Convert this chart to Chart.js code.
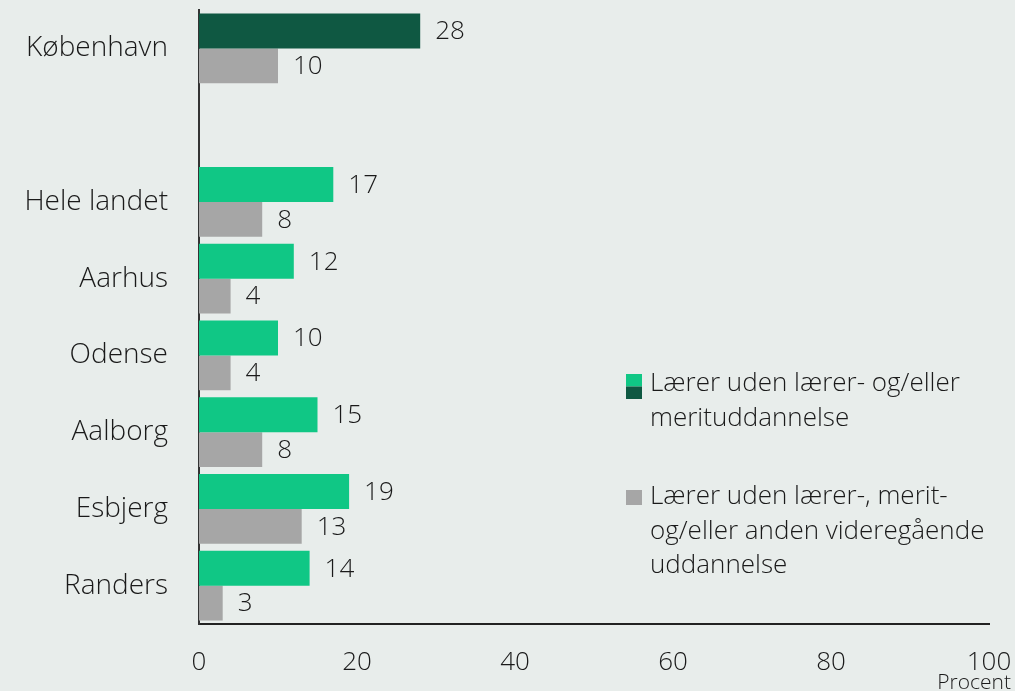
<!DOCTYPE html>
<html>
<head>
<meta charset="utf-8">
<script src="https://cdn.jsdelivr.net/npm/chart.js@4/dist/chart.umd.min.js"></script>
<style>
  html, body { margin: 0; padding: 0; background: #e8edeb; }
  #wrap { width: 1015px; height: 691px; position: relative; }
</style>
</head>
<body>
<div id="wrap"><canvas id="c" width="1015" height="691"></canvas></div>
<script>
// Byer (tom plads mellem København og resten)
const categories = ['København', '', 'Hele landet', 'Aarhus', 'Odense', 'Aalborg', 'Esbjerg', 'Randers'];
// Andel lærere uden lærer- og/eller merituddannelse (procent)
const utenLaerer = [28, null, 17, 12, 10, 15, 19, 14];
// Andel lærere uden lærer-, merit- og/eller anden videregående uddannelse (procent)
const utenVideregaaende = [10, null, 8, 4, 4, 8, 13, 3];
const xTicks = [0, 20, 40, 60, 80, 100];

const legendLabels = [
  ['Lærer uden lærer- og/eller', 'merituddannelse'],
  ['Lærer uden lærer-, merit-', 'og/eller anden videregående', 'uddannelse']
];

const GREEN = '#10c785';
const DARK_GREEN = '#0f5842';
const GREY = '#a6a6a6';
const TEXT = '#1a1a1a';
const FONT = '"Open Sans", "Noto Sans", sans-serif';

const valueLabels = {
  id: 'valueLabels',
  afterDatasetsDraw(chart) {
    const ctx = chart.ctx;
    ctx.save();
    ctx.font = '300 26px ' + FONT;
    ctx.fillStyle = TEXT;
    ctx.textAlign = 'left';
    ctx.textBaseline = 'middle';
    chart.data.datasets.forEach((ds, i) => {
      const meta = chart.getDatasetMeta(i);
      meta.data.forEach((el, j) => {
        const v = ds.data[j];
        if (v === null || v === undefined) return;
        ctx.fillText(String(v), el.x + 15, el.y + 1);
      });
    });
    ctx.restore();
  }
};

const sideLegend = {
  id: 'sideLegend',
  afterDraw(chart) {
    const ctx = chart.ctx;
    ctx.save();
    // split swatch: light and dark green
    ctx.fillStyle = GREEN;
    ctx.fillRect(626, 374, 16, 12.5);
    ctx.fillStyle = DARK_GREEN;
    ctx.fillRect(626, 386.5, 16, 12.5);
    ctx.fillStyle = GREY;
    ctx.fillRect(626, 490, 16, 15);

    ctx.font = '300 26px ' + FONT;
    ctx.fillStyle = TEXT;
    ctx.textAlign = 'left';
    ctx.textBaseline = 'middle';
    const starts = [384, 497];
    legendLabels.forEach((lines, k) => {
      lines.forEach((t, n) => ctx.fillText(t, 650, starts[k] + n * 34.5));
    });

    ctx.font = '300 21px ' + FONT;
    ctx.textAlign = 'right';
    ctx.fillText('Procent', 1011, 683);
    ctx.restore();
  }
};

new Chart(document.getElementById('c'), {
  type: 'bar',
  data: {
    labels: categories,
    datasets: [
      {
        data: utenLaerer,
        backgroundColor: utenLaerer.map((v, i) => i === 0 ? DARK_GREEN : GREEN),
        categoryPercentage: 0.91,
        barPercentage: 1.0
      },
      {
        data: utenVideregaaende,
        backgroundColor: GREY,
        categoryPercentage: 0.91,
        barPercentage: 1.0
      }
    ]
  },
  options: {
    indexAxis: 'y',
    responsive: false,
    animation: false,
    layout: { padding: { left: 0, right: 26, top: 10, bottom: 0 } },
    plugins: {
      legend: { display: false },
      tooltip: { enabled: false }
    },
    scales: {
      x: {
        min: 0,
        max: 100,
        afterBuildTicks(scale) { scale.ticks = xTicks.map(v => ({ value: v })); },
        afterFit(scale) {
          scale.height = 67;
          scale.paddingLeft = 0;
          scale.paddingRight = 0;
        },
        grid: { display: false, drawTicks: false },
        border: { display: true, color: '#222', width: 2 },
        ticks: { padding: 23, color: TEXT, font: { family: FONT, size: 26, weight: 300 } }
      },
      y: {
        afterFit(scale) {
          scale.width = 199;
          scale.paddingTop = 0;
          scale.paddingBottom = 0;
        },
        grid: { display: false, drawTicks: false },
        border: { display: true, color: '#333', width: 2 },
        ticks: { padding: 31, color: TEXT, font: { family: FONT, size: 28, weight: 300 } }
      }
    }
  },
  plugins: [valueLabels, sideLegend]
});
</script>
</body>
</html>
